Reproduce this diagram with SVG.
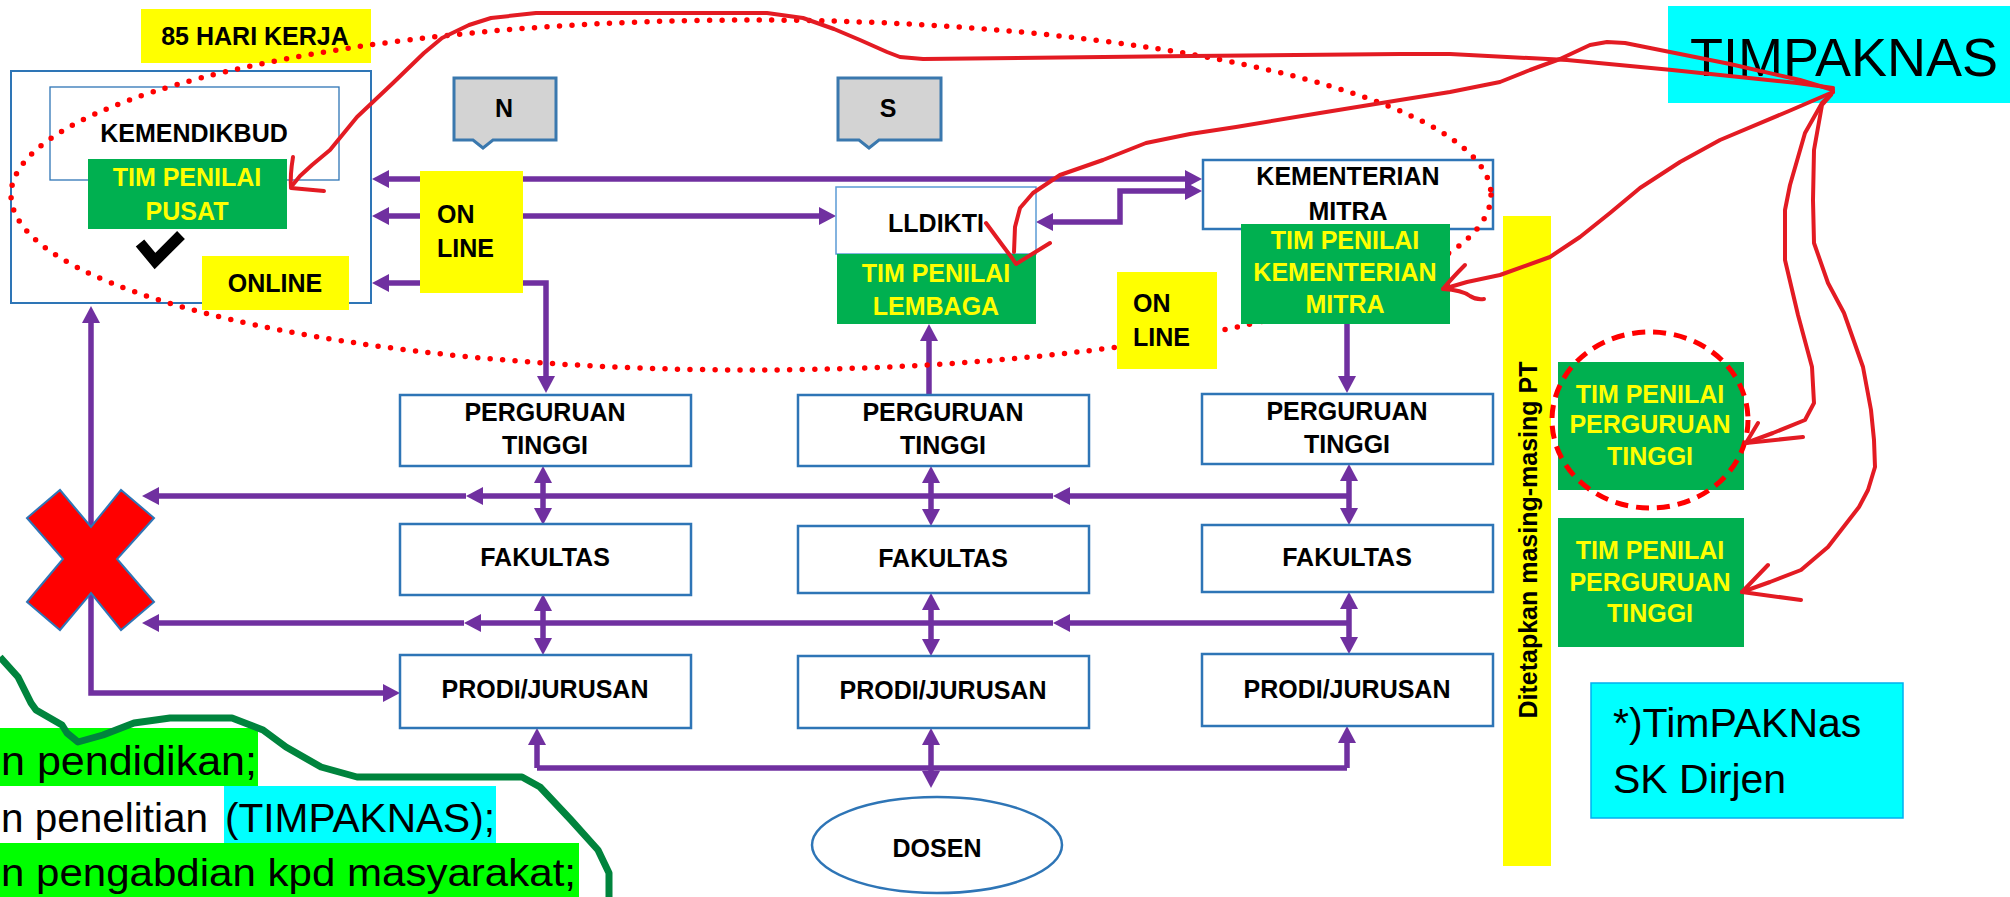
<svg xmlns="http://www.w3.org/2000/svg" width="2010" height="897" viewBox="0 0 2010 897">
<defs>
<style>
.box{fill:#fff;stroke:#2E75B6;stroke-width:2.5}
.t{font-family:'Liberation Sans',Arial,sans-serif;font-weight:bold;font-size:25px;fill:#000;text-anchor:middle}
.tl{text-anchor:start}
.gy{fill:#FFFF00}
.green{fill:#00B050}
.yel{fill:#FFFF00}
.conn{fill:none;stroke:#7030A0;stroke-width:5.5}
.red{fill:none;stroke:#E31B23;stroke-width:4;stroke-linecap:round;stroke-linejoin:round}
.reg{font-family:'Liberation Sans',Arial,sans-serif;font-weight:normal;fill:#000}
.call{fill:#D3D3D3;stroke:#3A78AE;stroke-width:3}
</style>
<marker id="ah" markerUnits="userSpaceOnUse" markerWidth="17" markerHeight="18" refX="11" refY="9" orient="auto-start-reverse">
<path d="M0,0 L17,9 L0,18 Z" fill="#7030A0"/>
</marker>
</defs>
<rect width="2010" height="897" fill="#fff"/>

<g id="hari-kerja">
<rect x="141" y="9" width="230" height="54" class="yel"/>
<text x="255" y="45" class="t" font-size="22">85 HARI KERJA</text>
</g>

<g id="kemendikbud">
<rect x="11" y="71" width="360" height="232" fill="none" stroke="#2E75B6" stroke-width="2"/>
<rect x="50" y="87" width="289" height="93" fill="none" stroke="#2E75B6" stroke-width="1.3"/>
<text x="194" y="142" class="t">KEMENDIKBUD</text>
</g>

<g id="kementerian-mitra">
<rect x="1203" y="160" width="290" height="69" class="box"/>
<text x="1348" y="185" class="t">KEMENTERIAN</text>
<text x="1348" y="220" class="t">MITRA</text>
</g>

<g id="connectors">
<path class="conn" d="M378,179 H1196" marker-start="url(#ah)" marker-end="url(#ah)"/>
<path class="conn" d="M378,216 H830" marker-start="url(#ah)" marker-end="url(#ah)"/>
<path class="conn" d="M378,283 H546 V387" marker-start="url(#ah)" marker-end="url(#ah)"/>
<path class="conn" d="M1042,222 H1120 V191 H1196" marker-start="url(#ah)" marker-end="url(#ah)"/>
<path class="conn" d="M929,395 V330" marker-end="url(#ah)"/>
<path class="conn" d="M1347,324 V387" marker-end="url(#ah)"/>
<path class="conn" d="M543,472 V519" marker-start="url(#ah)" marker-end="url(#ah)"/>
<path class="conn" d="M543,600 V649" marker-start="url(#ah)" marker-end="url(#ah)"/>
<path class="conn" d="M931,472 V520" marker-start="url(#ah)" marker-end="url(#ah)"/>
<path class="conn" d="M931,599 V650" marker-start="url(#ah)" marker-end="url(#ah)"/>
<path class="conn" d="M1349,470 V519" marker-start="url(#ah)" marker-end="url(#ah)"/>
<path class="conn" d="M1349,598 V648" marker-start="url(#ah)" marker-end="url(#ah)"/>
<path class="conn" d="M1349,496 H1059" marker-end="url(#ah)"/>
<path class="conn" d="M1053,496 H472" marker-end="url(#ah)"/>
<path class="conn" d="M466,496 H148" marker-end="url(#ah)"/>
<path class="conn" d="M1349,623 H1059" marker-end="url(#ah)"/>
<path class="conn" d="M1053,623 H470" marker-end="url(#ah)"/>
<path class="conn" d="M464,623 H148" marker-end="url(#ah)"/>
<path class="conn" d="M394,693 H91 V312" marker-start="url(#ah)" marker-end="url(#ah)"/>
<path class="conn" d="M537,768 H1347"/>
<path class="conn" d="M537,768 V734" marker-end="url(#ah)"/>
<path class="conn" d="M1347,768 V732" marker-end="url(#ah)"/>
<path class="conn" d="M931,734 V782" marker-start="url(#ah)" marker-end="url(#ah)"/>
</g>

<g id="batas-85-hari">
<ellipse cx="751" cy="195" rx="740" ry="175" fill="none" stroke="#FF0000" stroke-width="5.5" stroke-dasharray="0 12.5" stroke-linecap="round"/>
</g>

<g id="tim-penilai-pusat">
<rect x="88" y="159" width="199" height="70" class="green"/>
<text x="187" y="186" class="t gy" font-size="24">TIM PENILAI</text>
<text x="187" y="220" class="t gy" font-size="24">PUSAT</text>
<polyline points="140,243 155,261 181,235" fill="none" stroke="#000" stroke-width="11"/>
</g>

<g id="online-1">
<rect x="202" y="256" width="147" height="54" class="yel"/>
<text x="275" y="292" class="t">ONLINE</text>
</g>

<g id="online-2">
<rect x="420" y="171" width="103" height="122" class="yel"/>
<text x="437" y="223" class="t tl">ON</text>
<text x="437" y="257" class="t tl">LINE</text>
</g>

<g id="callout-n">
<path class="call" d="M454,78 H556 V140 H493 L483,148 L473,140 H454 Z"/>
<text x="504" y="117" class="t" font-size="24">N</text>
</g>
<g id="callout-s">
<path class="call" d="M838,78 H941 V140 H879 L869,148 L859,140 H838 Z"/>
<text x="888" y="117" class="t" font-size="24">S</text>
</g>

<g id="lldikti">
<rect x="836" y="187" width="200" height="67" fill="#fff" stroke="#5B9BD5" stroke-width="1.5"/>
<text x="936" y="232" class="t">LLDIKTI</text>
<rect x="837" y="254" width="199" height="70" class="green"/>
<text x="936" y="282" class="t gy">TIM PENILAI</text>
<text x="936" y="315" class="t gy">LEMBAGA</text>
</g>

<g id="tim-penilai-kementerian">
<rect x="1241" y="224" width="209" height="100" class="green"/>
<text x="1345" y="249" class="t gy" font-size="24">TIM PENILAI</text>
<text x="1345" y="281" class="t gy" font-size="24">KEMENTERIAN</text>
<text x="1345" y="313" class="t gy" font-size="24">MITRA</text>
</g>

<g id="online-3">
<rect x="1117" y="272" width="100" height="97" class="yel"/>
<text x="1133" y="312" class="t tl">ON</text>
<text x="1133" y="346" class="t tl">LINE</text>
</g>

<g id="pt-1"><rect x="400" y="395" width="291" height="71" class="box"/><text x="545" y="421" class="t">PERGURUAN</text><text x="545" y="454" class="t">TINGGI</text></g>
<g id="pt-2"><rect x="798" y="395" width="291" height="71" class="box"/><text x="943" y="421" class="t">PERGURUAN</text><text x="943" y="454" class="t">TINGGI</text></g>
<g id="pt-3"><rect x="1202" y="394" width="291" height="70" class="box"/><text x="1347" y="420" class="t">PERGURUAN</text><text x="1347" y="453" class="t">TINGGI</text></g>
<g id="fak-1"><rect x="400" y="524" width="291" height="71" class="box"/><text x="545" y="566" class="t">FAKULTAS</text></g>
<g id="fak-2"><rect x="798" y="526" width="291" height="67" class="box"/><text x="943" y="567" class="t">FAKULTAS</text></g>
<g id="fak-3"><rect x="1202" y="525" width="291" height="67" class="box"/><text x="1347" y="566" class="t">FAKULTAS</text></g>
<g id="prodi-1"><rect x="400" y="655" width="291" height="73" class="box"/><text x="545" y="698" class="t">PRODI/JURUSAN</text></g>
<g id="prodi-2"><rect x="798" y="656" width="291" height="72" class="box"/><text x="943" y="699" class="t">PRODI/JURUSAN</text></g>
<g id="prodi-3"><rect x="1202" y="654" width="291" height="72" class="box"/><text x="1347" y="698" class="t">PRODI/JURUSAN</text></g>

<g id="dosen">
<ellipse cx="937" cy="845" rx="125" ry="48" class="box"/>
<text x="937" y="857" class="t">DOSEN</text>
</g>

<g id="silang">
<polygon points="60,490 91,527 121,490 154,518 117,559 154,602 121,630 91,593 60,630 27,602 63,559 27,518" fill="#FF0000" stroke="#2E75B6" stroke-width="2"/>
</g>

<g id="ditetapkan">
<rect x="1503" y="216" width="48" height="650" class="yel"/>
<text transform="translate(1537,540) rotate(-90)" class="t" font-size="25.5">Ditetapkan masing-masing PT</text>
</g>

<g id="tim-penilai-pt-1">
<rect x="1558" y="362" width="186" height="128" class="green"/>
<text x="1650" y="403" class="t gy" font-size="23">TIM PENILAI</text>
<text x="1650" y="433" class="t gy" font-size="23">PERGURUAN</text>
<text x="1650" y="465" class="t gy" font-size="23">TINGGI</text>
<ellipse cx="1650" cy="420" rx="98" ry="88" fill="none" stroke="#FF0000" stroke-width="5" stroke-dasharray="13 8"/>
</g>

<g id="tim-penilai-pt-2">
<rect x="1558" y="518" width="186" height="129" class="green"/>
<text x="1650" y="559" class="t gy" font-size="23">TIM PENILAI</text>
<text x="1650" y="591" class="t gy" font-size="23">PERGURUAN</text>
<text x="1650" y="622" class="t gy" font-size="23">TINGGI</text>
</g>

<g id="catatan">
<rect x="1591" y="683" width="312" height="135" fill="#00FFFF" stroke="#00B0F0" stroke-width="1.5"/>
<text x="1613" y="737" class="reg" font-size="41">*)TimPAKNas</text>
<text x="1613" y="793" class="reg" font-size="41">SK Dirjen</text>
</g>

<g id="timpaknas">
<rect x="1668" y="6" width="342" height="97" fill="#00FFFF"/>
<text x="1690" y="76" class="reg" font-size="54">TIMPAKNAS</text>
</g>

<g id="daftar-tim">
<rect x="0" y="728" width="258" height="58" fill="#00FF00"/>
<rect x="224" y="786" width="272" height="57" fill="#00FFFF"/>
<rect x="0" y="843" width="579" height="54" fill="#00FF00"/>
<text x="1" y="775" class="reg" font-size="40" textLength="256" lengthAdjust="spacingAndGlyphs">n pendidikan;</text>
<text x="1" y="832" class="reg" font-size="40" textLength="207" lengthAdjust="spacingAndGlyphs">n penelitian</text>
<text x="225" y="832" class="reg" font-size="40" textLength="270" lengthAdjust="spacingAndGlyphs">(TIMPAKNAS);</text>
<text x="1" y="886" class="reg" font-size="39" textLength="575" lengthAdjust="spacingAndGlyphs">n pengabdian kpd masyarakat;</text>
<polyline points="0,657 18,677 31,703 36,710 62,725 67,733 78,742 103,735 134,723 170,718 232,718 263,730 286,747 321,767 357,777 522,777 540,787 571,820 598,850 609,873 609,897" fill="none" stroke="#00843D" stroke-width="7" stroke-linejoin="round"/>
</g>

<g id="coretan-merah">
<polyline class="red" points="1833,88 1797,83 1672,70 1567,60 1450,54 1400,54 1191,56 923,59 900,57 887,52 860,40 834,29 803,18 767,13 700,13 536,13 491,18 469,25 442,38 424,53 393,83 357,117 330,150 312,165 300,176 291,187"/>
<path class="red" d="M293,157 Q290,175 291,188 L324,191"/>
<polyline class="red" points="1833,90 1800,80 1730,64 1670,52 1625,43 1607,42 1590,45 1560,59 1530,70 1500,82 1450,92 1400,100 1320,113 1236,127 1190,134 1146,143 1103,160 1060,175 1033,193 1020,208 1015,227 1014,252"/>
<path class="red" d="M986,223 L1003,246 L1012,258 L1016,264 L1050,243"/>
<polyline class="red" points="1833,92 1789,111 1720,140 1680,162 1640,188 1610,213 1580,237 1550,257 1500,275 1467,282 1443,289"/>
<path class="red" d="M1465,265 Q1452,278 1443,289 Q1462,290 1470,296 Q1476,300 1484,299"/>
<polyline class="red" points="1833,92 1822,103 1805,133 1790,185 1785,210 1785,260 1798,315 1812,367 1814,403 1805,420 1773,433 1746,443"/>
<path class="red" d="M1758,423 L1746,443 L1803,437"/>
<polyline class="red" points="1831,95 1822,105 1814,150 1813,200 1814,243 1828,283 1844,313 1863,367 1871,410 1874,440 1875,467 1868,490 1859,507 1828,547 1801,570 1770,582 1742,592"/>
<path class="red" d="M1768,565 L1742,592 L1801,600"/>
</g>
</svg>
